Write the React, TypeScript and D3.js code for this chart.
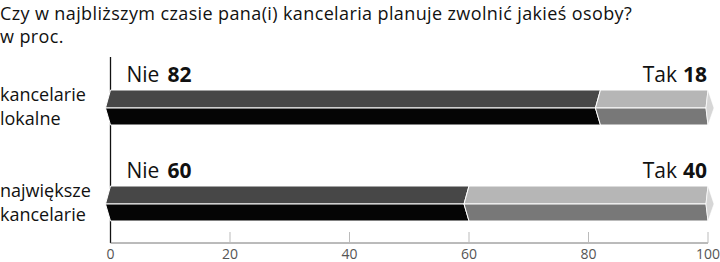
import React from "react";
import * as d3 from "d3";

const categories = [["kancelarie", "lokalne"], ["największe", "kancelarie"]];
const nieValues = [82, 60];
const takValues = [18, 40];
const nieLabel = "Nie";
const takLabel = "Tak";
const titleLines = [
  "Czy w najbliższym czasie pana(i) kancelaria planuje zwolnić jakieś osoby?",
  "w proc.",
];
const tickValues = [0, 20, 40, 60, 80, 100];

const FONT = "'Open Sans', sans-serif";

export default function App() {
  const W = 720, H = 262;
  const x = d3.scaleLinear().domain([0, 100]).range([110.5, 708]);
  const y = d3.scaleBand<number>().domain(d3.range(categories.length)).range([55, 247]);
  const barTopOff = 35;
  const topH = 18, frontH = 17, tip = 5;
  const axisY = 243;

  const seg = (a: number, b: number, t: number, last: boolean) => {
    const x0 = x(a), x1 = x(b);
    const m = t + topH, bt = m + frontH;
    const rIn = last ? x1 - 2 : x1 - tip;
    const topFace = [[x0, t], [x1, t], [rIn, m], [x0 - tip, m]];
    const frontFace = [[x0 - tip, m], [rIn, m], [x1, bt], [x0, bt]];
    const end = [[x1, t], [x1 + tip + 1, m], [x1, bt], [rIn, m]];
    const p = (pts: number[][]) => pts.map((q) => q.join(",")).join(" ");
    return { top: p(topFace), front: p(frontFace), end: last ? p(end) : null };
  };

  return (
    <div style={{ position: "fixed", left: 0, top: 0 }}>
      <svg width={W} height={H} style={{ display: "block", fontFamily: FONT }}>
        <rect width={W} height={H} fill="#fff" />
        {titleLines.map((l, i) => (
          <text key={i} x={0} y={19.5 + i * 23.5} fontSize={18} letterSpacing={0.38} fill="#111">{l}</text>
        ))}
        {/* vertical axis line */}
        <line x1={x(0)} x2={x(0)} y1={57} y2={axisY} stroke="#111" strokeWidth={1.3} />
        {/* horizontal axis */}
        <line x1={x(0)} x2={x(100)} y1={axisY} y2={axisY} stroke="#777" strokeWidth={1} />
        {tickValues.map((v) => (
          <g key={v}>
            {v !== 0 && <line x1={x(v)} x2={x(v)} y1={axisY - 11} y2={axisY} stroke="#bbb" strokeWidth={1} />}
            <text x={x(v)} y={axisY + 15.5} textAnchor="middle" fontSize={14} fill="#555">{v}</text>
          </g>
        ))}
        {categories.map((cat, i) => {
          const t = (y(i) as number) + barTopOff;
          const nie = nieValues[i], tak = takValues[i];
          const s1 = seg(0, nie, t, false);
          const s2 = seg(nie, nie + tak, t, true);
          return (
            <g key={i}>
              {cat.map((l, j) => (
                <text key={j} x={0} y={t + 10.5 + j * 24} fontSize={18} fill="#111">{l}</text>
              ))}
              <polygon points={s1.top} fill="#474747" stroke="#fff" strokeWidth={1} />
              <polygon points={s1.front} fill="#050505" stroke="#fff" strokeWidth={1} />
              <polygon points={s2.top} fill="#b6b6b6" stroke="#fff" strokeWidth={1} />
              <polygon points={s2.front} fill="#787878" stroke="#fff" strokeWidth={1} />
              {s2.end && <polygon points={s2.end} fill="#d6d6d6" stroke="#fff" strokeWidth={0.6} />}
              <text x={x(0) + 16} y={t - 8.5} fontSize={21} fill="#111">
                <tspan>{nieLabel}</tspan>
                <tspan dx={8} fontWeight={700}>{nie}</tspan>
              </text>
              <text x={x(100) - 1} y={t - 8.5} fontSize={21} fill="#111" textAnchor="end">
                <tspan>{takLabel}</tspan>
                <tspan dx={6} fontWeight={700}>{tak}</tspan>
              </text>
            </g>
          );
        })}
      </svg>
    </div>
  );
}
